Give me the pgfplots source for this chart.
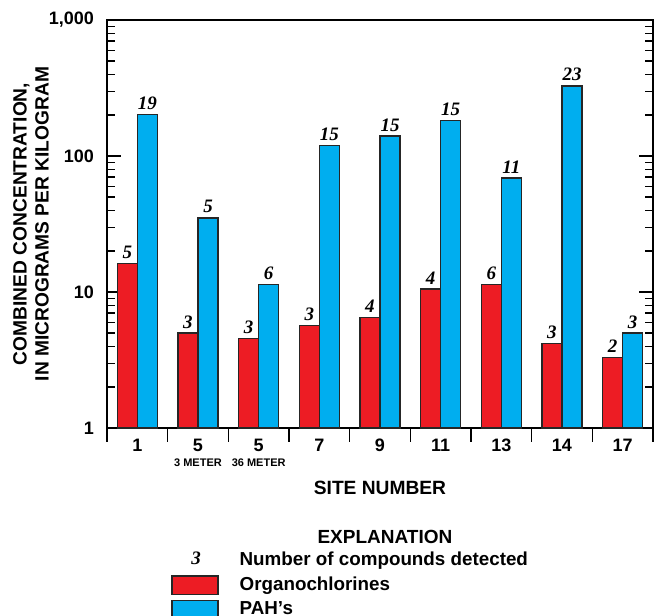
\documentclass[border=0pt]{standalone}
\usepackage{fontspec}
\setmainfont{Liberation Sans}
\newfontfamily\tnr{Liberation Serif}
\usepackage{pgfplots}
\pgfplotsset{compat=1.18}
\definecolor{ocred}{HTML}{ED1C24}
\definecolor{pahblue}{HTML}{00AEEF}
\begin{document}
\begin{tikzpicture}
\useasboundingbox (-53.5pt,-94pt) rectangle (274pt,214pt);
\begin{axis}[
  at={(0,0)}, anchor=south west,
  scale only axis, width=273pt, height=204pt,
  ymode=log, ymin=1, ymax=1000,
  xmin=-0.5, xmax=8.5,
  ybar=0pt, bar width=0.33,
  clip=false,
  axis line style={line width=1pt},
  ytick={1,10,100,1000}, yticklabels={1,10,100,{1,000}},
  yticklabel style={font=\fontsize{9}{10}\selectfont\bfseries, xshift=-3pt},
  ytick align=inside, ytick pos=both,
  xtick align=outside, xtick pos=bottom,
  major tick length=7pt, minor tick length=4pt,
  every tick/.style={line width=0.6pt, black},
  xtick={-0.5,0.5,...,8.5},
  x tick label as interval,
  xticklabels={1,{5\\[-2.5pt]\fontsize{5.5}{6}\selectfont 3 METER},{5\\[-2.5pt]\fontsize{5.5}{6}\selectfont 36 METER},7,9,11,13,14,17},
  xticklabel style={font=\fontsize{9}{10}\selectfont\bfseries, align=center, anchor=north, yshift=5pt},
  xlabel={SITE NUMBER},
  xlabel style={at={(axis description cs:0.5,0)}, anchor=center, yshift=-30pt, font=\fontsize{9.6}{10}\selectfont\bfseries},
  ylabel={COMBINED CONCENTRATION,\\IN MICROGRAMS PER KILOGRAM},
  ylabel style={at={(axis description cs:-0.139,0.5)}, anchor=center, align=center, font=\fontsize{9.6}{11}\selectfont\bfseries},
  point meta=explicit symbolic,
  nodes near coords={\pgfplotspointmeta},
  every node near coord/.append style={font=\tnr\bfseries\itshape\fontsize{9.5}{10}\selectfont, inner sep=2pt},
  legend style={at={(rel axis cs:0.106,-0.283)}, anchor=north west, draw=none, fill=none,
    font=\fontsize{9.4}{10}\selectfont\bfseries, row sep=0.1pt},
  legend cell align=left,
]
\addlegendimage{legend image code/.code={\node[font=\tnr\bfseries\itshape\fontsize{9.5}{10}\selectfont, inner sep=0pt] at (9.5pt,0pt) {3};}}
\addlegendentry{\hspace{8.5pt}Number of compounds detected}
\addplot[fill=ocred, draw=black!85, line width=0.7pt, bar shift=-0.165,
  legend image code/.code={\draw[fill=ocred, draw=black!85, line width=0.7pt] (0pt,-4.6pt) rectangle (23pt,4.6pt);}]
  coordinates {(0,16.2)[5] (1,5.0)[3] (2,4.57)[3] (3,5.7)[3] (4,6.5)[4] (5,10.5)[4] (6,11.4)[6] (7,4.2)[3] (8,3.3)[2]};
\addlegendentry{\hspace{8.5pt}Organochlorines}
\addplot[fill=pahblue, draw=black!85, line width=0.7pt, bar shift=0.165,
  legend image code/.code={\draw[fill=pahblue, draw=black!85, line width=0.7pt] (0pt,-4.6pt) rectangle (23pt,4.6pt);}]
  coordinates {(0,201)[19] (1,35.1)[5] (2,11.3)[6] (3,119)[15] (4,140)[15] (5,182)[15] (6,69)[11] (7,328)[23] (8,5.0)[3]};
\addlegendentry{\hspace{8.5pt}PAH\symbol{39}s}
\node[font=\fontsize{9.5}{10}\selectfont\bfseries] at (rel axis cs:0.509,-0.267) {EXPLANATION};
\end{axis}
\end{tikzpicture}
\end{document}
